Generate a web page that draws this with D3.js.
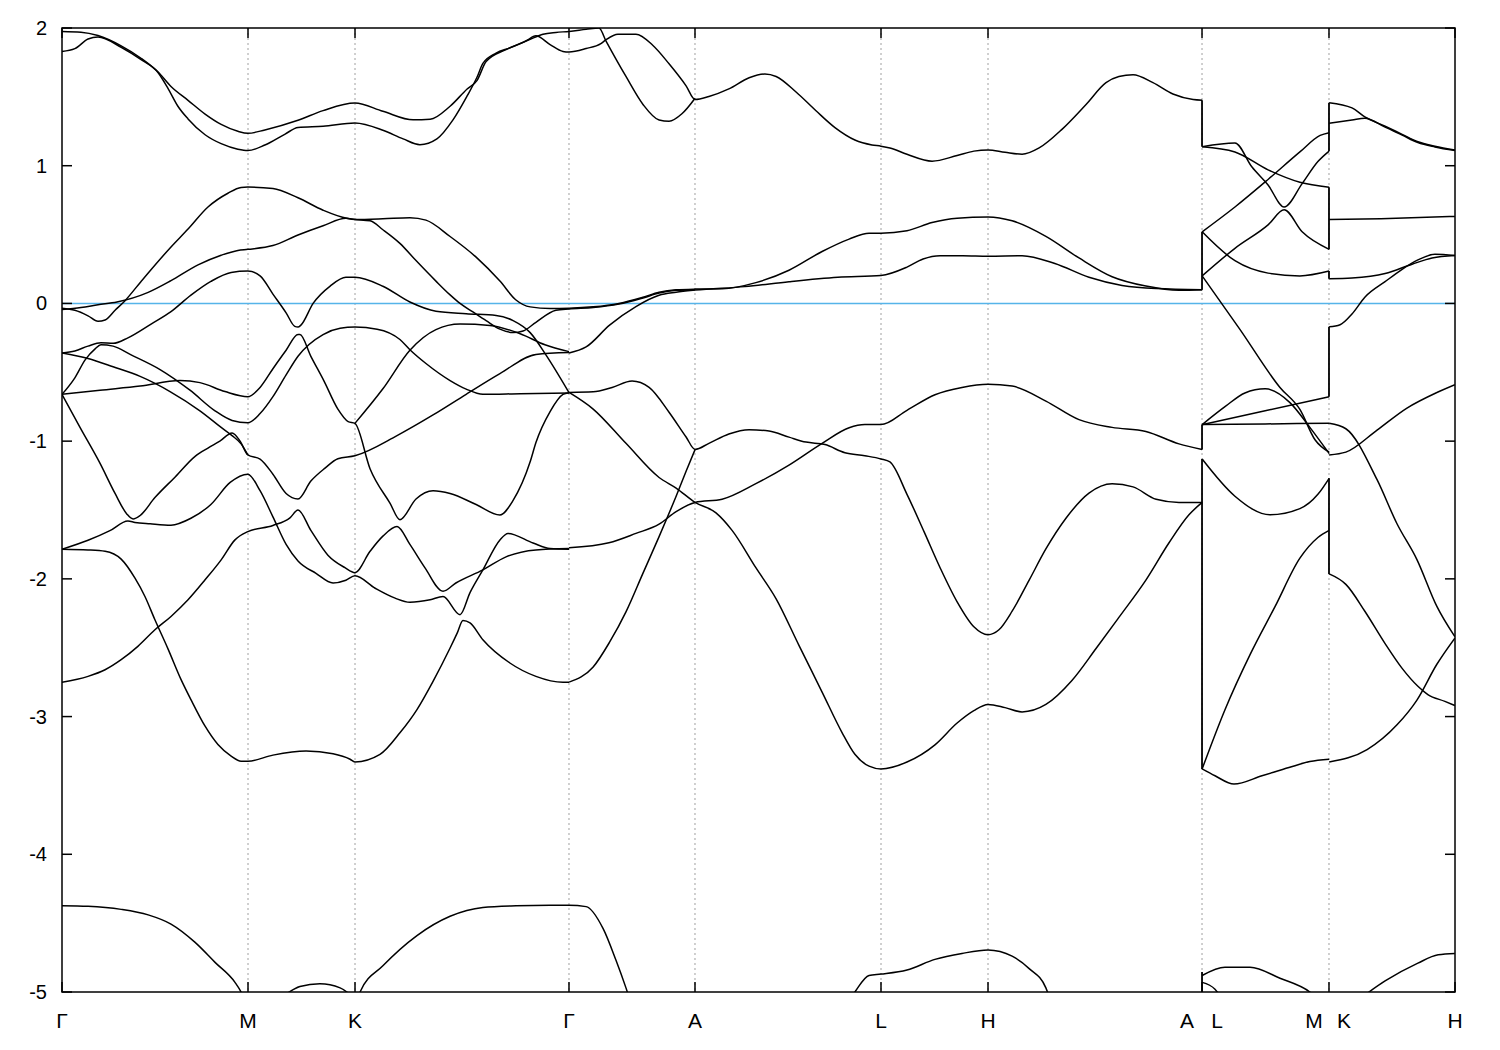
<!DOCTYPE html>
<html><head><meta charset="utf-8">
<script src="https://cdn.jsdelivr.net/npm/d3@7"></script>
<style>body{margin:0;background:#fff}text{font-family:"Liberation Sans",Arial,sans-serif}</style>
</head><body>
<svg id="c" width="1500" height="1050"></svg>
<script>
// ---- data ----
const tickK = [0, 0.5785, 0.9113, 1.5768, 1.9687, 2.5472, 2.8800, 3.5456, 3.9405, 4.3324];
const tickNames = ["Γ","M","K","Γ","A","L","H","A|L","M|K","H"];
const yTicks = [2,1,0,-1,-2,-3,-4,-5];
const fermiLevel = 0;

const bandUA = [[0,1.975],[0.059,1.97],[0.112,1.945],[0.184,1.87],[0.246,1.78],[0.299,1.68],[0.339,1.575],[0.392,1.475],[0.445,1.375],[0.495,1.30],[0.547,1.25],[0.578,1.235],[0.631,1.26],[0.734,1.33],[0.812,1.40],[0.911,1.455],[0.998,1.395],[1.092,1.333],[1.145,1.337],[1.207,1.432],[1.260,1.557],[1.291,1.62],[1.319,1.756],[1.381,1.843],[1.443,1.905],[1.474,1.943],[1.518,1.88],[1.558,1.83],[1.577,1.826],[1.630,1.851],[1.676,1.887],[1.692,1.915],[1.729,1.955],[1.785,1.955],[1.838,1.873],[1.888,1.74],[1.941,1.58],[1.969,1.481],[2.012,1.503],[2.074,1.558],[2.137,1.639],[2.186,1.666],[2.221,1.648],[2.283,1.535],[2.345,1.399],[2.404,1.277],[2.466,1.187],[2.519,1.151],[2.547,1.142],[2.575,1.129],[2.628,1.083],[2.706,1.033],[2.784,1.074],[2.836,1.106],[2.880,1.115],[2.933,1.097],[2.986,1.083],[3.039,1.129],[3.110,1.264],[3.185,1.445],[3.247,1.603],[3.287,1.648],[3.331,1.661],[3.393,1.603],[3.455,1.521],[3.518,1.481],[3.546,1.476]];
const bandUB = [[0,1.83],[0.040,1.85],[0.081,1.92],[0.112,1.935],[0.184,1.86],[0.246,1.77],[0.299,1.675],[0.330,1.56],[0.361,1.43],[0.392,1.34],[0.445,1.225],[0.495,1.16],[0.547,1.12],[0.578,1.11],[0.631,1.15],[0.694,1.23],[0.734,1.278],[0.812,1.287],[0.911,1.31],[0.998,1.258],[1.061,1.195],[1.113,1.153],[1.166,1.195],[1.216,1.333],[1.260,1.507],[1.291,1.644],[1.309,1.743],[1.350,1.818],[1.393,1.856],[1.456,1.918],[1.496,1.955],[1.536,1.968],[1.577,1.975],[1.630,1.99],[1.670,2.0],[1.692,1.905],[1.754,1.648],[1.807,1.445],[1.857,1.332],[1.888,1.323],[1.928,1.377],[1.969,1.49]];
const bandP = [[0,-0.035],[0.040,-0.05],[0.081,-0.09],[0.112,-0.13],[0.134,-0.12],[0.165,-0.05],[0.196,0.02],[0.246,0.16],[0.339,0.41],[0.392,0.54],[0.454,0.70],[0.516,0.80],[0.557,0.842],[0.578,0.845],[0.656,0.835],[0.734,0.767],[0.812,0.677],[0.886,0.618],[0.911,0.61],[0.998,0.615],[1.082,0.623],[1.132,0.605],[1.207,0.486],[1.288,0.336],[1.362,0.162],[1.412,0.025],[1.456,-0.025],[1.518,-0.037],[1.577,-0.035],[1.652,-0.025],[1.732,0.0],[1.807,0.045],[1.857,0.081],[1.910,0.099],[1.969,0.104],[2.053,0.106],[2.158,0.151],[2.261,0.241],[2.364,0.377],[2.448,0.467],[2.510,0.51],[2.547,0.51],[2.628,0.528],[2.706,0.587],[2.784,0.619],[2.880,0.628],[2.955,0.60],[3.060,0.487],[3.163,0.33],[3.266,0.194],[3.371,0.126],[3.474,0.095],[3.546,0.1]];
const bandQ = [[0,-0.045],[0.059,-0.03],[0.112,-0.01],[0.171,0.01],[0.268,0.08],[0.339,0.165],[0.423,0.28],[0.495,0.35],[0.547,0.385],[0.578,0.393],[0.656,0.42],[0.734,0.497],[0.812,0.564],[0.883,0.618],[0.911,0.61],[0.958,0.60],[0.998,0.535],[1.051,0.436],[1.101,0.311],[1.163,0.162],[1.207,0.062],[1.238,0.0],[1.278,-0.062],[1.319,-0.125],[1.362,-0.187],[1.403,-0.212],[1.434,-0.20],[1.474,-0.137],[1.536,-0.05],[1.577,-0.04],[1.652,-0.03],[1.732,-0.005],[1.807,0.04],[1.857,0.075],[1.910,0.095],[1.969,0.1]];
const bandR = [[0,-0.36],[0.040,-0.345],[0.081,-0.31],[0.121,-0.285],[0.159,-0.29],[0.205,-0.25],[0.277,-0.15],[0.339,-0.06],[0.401,0.06],[0.463,0.16],[0.526,0.225],[0.578,0.235],[0.616,0.20],[0.656,0.068],[0.697,-0.068],[0.724,-0.167],[0.734,-0.172],[0.743,-0.158],[0.781,0.0],[0.834,0.126],[0.883,0.19],[0.911,0.19],[0.998,0.125],[1.082,0.01],[1.163,-0.057],[1.257,-0.075],[1.350,-0.087],[1.403,-0.125],[1.456,-0.212],[1.505,-0.373],[1.577,-0.648]];
const bandS = [[0,-0.66],[0.118,-0.63],[0.243,-0.60],[0.367,-0.56],[0.429,-0.575],[0.507,-0.64],[0.578,-0.677],[0.616,-0.61],[0.656,-0.474],[0.697,-0.34],[0.734,-0.226],[0.740,-0.226],[0.774,-0.384],[0.815,-0.564],[0.858,-0.767],[0.890,-0.858],[0.911,-0.871],[0.958,-1.20],[1.020,-1.45],[1.051,-1.57],[1.101,-1.42],[1.154,-1.36],[1.207,-1.38],[1.288,-1.46],[1.362,-1.536],[1.403,-1.43],[1.456,-1.15],[1.474,-1.01],[1.518,-0.785],[1.558,-0.66],[1.577,-0.648]];
const bandD1 = [[0,-0.36],[0.081,-0.40],[0.159,-0.46],[0.243,-0.53],[0.336,-0.64],[0.429,-0.78],[0.495,-0.90],[0.529,-0.96],[0.557,-1.02],[0.578,-1.10]];
const bandD2 = [[0,-0.66],[0.040,-0.54],[0.072,-0.41],[0.103,-0.33],[0.121,-0.30],[0.159,-0.31],[0.212,-0.37],[0.305,-0.48],[0.398,-0.63],[0.476,-0.78],[0.529,-0.85],[0.578,-0.867],[0.616,-0.80],[0.656,-0.677],[0.697,-0.519],[0.734,-0.384],[0.812,-0.226],[0.865,-0.181],[0.911,-0.172],[0.980,-0.187],[1.051,-0.262],[1.082,-0.336],[1.132,-0.436],[1.207,-0.56],[1.257,-0.622],[1.309,-0.66],[1.425,-0.655],[1.577,-0.65]];
const bandT2 = [[0,-0.66],[0.056,-0.90],[0.118,-1.16],[0.165,-1.38],[0.202,-1.53],[0.221,-1.565],[0.243,-1.54],[0.289,-1.41],[0.352,-1.26],[0.414,-1.11],[0.454,-1.05],[0.491,-1.00],[0.529,-0.94],[0.554,-1.0],[0.578,-1.10],[0.616,-1.13],[0.656,-1.24],[0.697,-1.38],[0.734,-1.42],[0.774,-1.29],[0.818,-1.196],[0.858,-1.128],[0.911,-1.106],[1.042,-0.96],[1.154,-0.81],[1.257,-0.66],[1.362,-0.51],[1.474,-0.37],[1.577,-0.356]];
const bandKG2 = [[0.911,-0.871],[0.998,-0.62],[1.082,-0.34],[1.163,-0.19],[1.238,-0.15],[1.331,-0.16],[1.425,-0.22],[1.502,-0.30],[1.577,-0.35]];
const bandLB1 = [[0,-1.785],[0.081,-1.79],[0.134,-1.80],[0.184,-1.857],[0.227,-1.995],[0.258,-2.128],[0.289,-2.297],[0.330,-2.51],[0.370,-2.73],[0.401,-2.877],[0.445,-3.07],[0.485,-3.203],[0.526,-3.287],[0.557,-3.324],[0.578,-3.324],[0.656,-3.28],[0.759,-3.25],[0.843,-3.27],[0.896,-3.31],[0.911,-3.33],[0.989,-3.275],[1.051,-3.118],[1.104,-2.949],[1.154,-2.744],[1.207,-2.502],[1.229,-2.394],[1.247,-2.302],[1.269,-2.32],[1.309,-2.442],[1.393,-2.611],[1.474,-2.708],[1.558,-2.751],[1.577,-2.751]];
const bandLB2 = [[0,-2.751],[0.081,-2.708],[0.134,-2.66],[0.184,-2.587],[0.236,-2.49],[0.289,-2.37],[0.339,-2.273],[0.392,-2.152],[0.445,-2.007],[0.495,-1.862],[0.538,-1.717],[0.578,-1.657],[0.656,-1.612],[0.709,-1.557],[0.734,-1.50],[0.774,-1.648],[0.827,-1.828],[0.880,-1.919],[0.911,-1.955],[0.958,-1.80],[0.998,-1.69],[1.042,-1.62],[1.082,-1.75],[1.129,-1.92],[1.185,-2.09],[1.225,-2.03],[1.309,-1.935],[1.381,-1.84],[1.474,-1.79],[1.577,-1.78]];
const bandLB3 = [[0,-1.785],[0.081,-1.72],[0.149,-1.65],[0.205,-1.58],[0.227,-1.59],[0.274,-1.60],[0.339,-1.61],[0.401,-1.56],[0.463,-1.46],[0.523,-1.30],[0.578,-1.24],[0.616,-1.36],[0.656,-1.55],[0.697,-1.75],[0.734,-1.87],[0.790,-1.96],[0.843,-2.03],[0.883,-2.01],[0.911,-1.978],[0.974,-2.068],[1.036,-2.14],[1.082,-2.17],[1.145,-2.152],[1.185,-2.128],[1.238,-2.26],[1.269,-2.10],[1.309,-1.935],[1.362,-1.717],[1.387,-1.67],[1.465,-1.74],[1.518,-1.78],[1.577,-1.785]];
const bandM2 = [[1.577,-0.36],[1.630,-0.316],[1.703,-0.158],[1.785,-0.023],[1.857,0.059],[1.910,0.081],[1.969,0.097],[2.124,0.122],[2.261,0.158],[2.413,0.19],[2.547,0.203],[2.628,0.264],[2.678,0.323],[2.731,0.347],[2.802,0.347],[2.880,0.343],[2.986,0.347],[3.088,0.29],[3.194,0.19],[3.297,0.131],[3.403,0.108],[3.546,0.1]];
const bandM3 = [[1.577,-0.646],[1.652,-0.642],[1.711,-0.61],[1.773,-0.564],[1.826,-0.61],[1.888,-0.79],[1.941,-0.97],[1.969,-1.06],[2.012,-1.016],[2.074,-0.948],[2.137,-0.917],[2.199,-0.926],[2.261,-0.971],[2.314,-1.007],[2.373,-1.025],[2.435,-1.084],[2.497,-1.106],[2.547,-1.129],[2.575,-1.151],[2.628,-1.386],[2.681,-1.657],[2.731,-1.919],[2.784,-2.167],[2.836,-2.348],[2.880,-2.406],[2.914,-2.37],[2.955,-2.235],[3.008,-2.009],[3.060,-1.783],[3.123,-1.558],[3.194,-1.377],[3.266,-1.309],[3.331,-1.332],[3.403,-1.422],[3.474,-1.445],[3.546,-1.445]];
const bandM4 = [[1.577,-0.646],[1.652,-0.767],[1.754,-1.016],[1.857,-1.264],[1.910,-1.341],[1.969,-1.445],[2.034,-1.521],[2.084,-1.648],[2.158,-1.919],[2.221,-2.145],[2.292,-2.483],[2.364,-2.822],[2.426,-3.116],[2.466,-3.274],[2.510,-3.36],[2.547,-3.38],[2.628,-3.33],[2.715,-3.205],[2.784,-3.047],[2.836,-2.957],[2.880,-2.912],[2.933,-2.935],[2.986,-2.966],[3.060,-2.912],[3.141,-2.738],[3.216,-2.506],[3.287,-2.28],[3.371,-2.009],[3.443,-1.738],[3.505,-1.535],[3.546,-1.445]];
const bandM5 = [[1.577,-1.774],[1.701,-1.738],[1.785,-1.67],[1.857,-1.603],[1.910,-1.512],[1.969,-1.445],[2.053,-1.422],[2.158,-1.309],[2.261,-1.174],[2.364,-1.016],[2.448,-0.903],[2.497,-0.88],[2.547,-0.88],[2.628,-0.776],[2.715,-0.663],[2.799,-0.61],[2.880,-0.587],[2.955,-0.60],[3.060,-0.709],[3.163,-0.844],[3.266,-0.90],[3.371,-0.93],[3.474,-1.02],[3.546,-1.06]];
const bandM6 = [[1.577,-2.75],[1.652,-2.64],[1.703,-2.46],[1.754,-2.24],[1.806,-1.964],[1.857,-1.693],[1.910,-1.40],[1.941,-1.219],[1.969,-1.061]];
const bandBT1 = [[0,-4.374],[0.081,-4.378],[0.184,-4.40],[0.268,-4.44],[0.339,-4.507],[0.414,-4.64],[0.476,-4.785],[0.538,-4.93],[0.557,-5.0],[0.569,-5.06]];
const bandBT2 = [[0.694,-5.02],[0.740,-4.96],[0.802,-4.94],[0.865,-4.97],[0.902,-5.03]];
const bandBT3 = [[0.921,-5.05],[0.927,-5.0],[0.998,-4.81],[1.104,-4.59],[1.207,-4.45],[1.309,-4.386],[1.412,-4.374],[1.518,-4.37],[1.577,-4.37],[1.630,-4.38],[1.683,-4.54],[1.723,-4.77],[1.754,-4.97],[1.767,-5.06]];
const bandBT4 = [[2.451,-5.05],[2.466,-5.0],[2.510,-4.88],[2.547,-4.87],[2.628,-4.84],[2.715,-4.763],[2.799,-4.72],[2.880,-4.695],[2.955,-4.74],[3.008,-4.83],[3.060,-4.97],[3.073,-5.05]];
const bandBT5 = [[3.546,-4.88],[3.617,-4.82],[3.695,-4.82],[3.788,-4.90],[3.881,-5.0],[3.897,-5.03]];
const bandBT6 = [[3.546,-4.93],[3.586,-4.98],[3.608,-5.05]];
const bandBT7 = [[4.053,-5.02],[4.115,-4.92],[4.217,-4.79],[4.280,-4.73],[4.332,-4.72]];
const bandLMa = [[3.546,1.138],[3.648,1.165],[3.701,0.99],[3.751,0.86],[3.801,0.70],[3.857,0.87],[3.906,1.03],[3.941,1.106]];
const bandLMb = [[3.546,1.138],[3.648,1.10],[3.751,0.97],[3.850,0.88],[3.941,0.844]];
const bandLMc = [[3.546,0.52],[3.648,0.70],[3.751,0.90],[3.850,1.10],[3.913,1.22],[3.941,1.24]];
const bandLMd = [[3.546,0.52],[3.648,0.31],[3.751,0.22],[3.850,0.20],[3.941,0.235]];
const bandLMe = [[3.546,0.2],[3.648,0.40],[3.751,0.57],[3.801,0.68],[3.857,0.52],[3.941,0.393]];
const bandLMf = [[3.546,0.2],[3.664,-0.19],[3.788,-0.61],[3.850,-0.77],[3.897,-0.99],[3.941,-1.08]];
const bandLMg = [[3.546,-0.88],[3.617,-0.75],[3.679,-0.65],[3.742,-0.62],[3.819,-0.72],[3.881,-0.90],[3.941,-1.09]];
const bandLMh = [[3.546,-0.88],[3.742,-0.875],[3.941,-0.87]];
const bandLMi = [[3.546,-0.88],[3.742,-0.78],[3.941,-0.677]];
const bandLMj = [[3.546,-1.13],[3.648,-1.40],[3.757,-1.535],[3.850,-1.49],[3.906,-1.386],[3.941,-1.27]];
const bandLMk = [[3.546,-3.38],[3.617,-2.95],[3.695,-2.55],[3.773,-2.2],[3.850,-1.85],[3.906,-1.70],[3.941,-1.648]];
const bandLMl = [[3.546,-3.38],[3.586,-3.43],[3.645,-3.49],[3.732,-3.43],[3.816,-3.37],[3.881,-3.327],[3.941,-3.31]];
const bandKH1 = [[3.941,1.458],[4.012,1.42],[4.052,1.354],[4.115,1.287],[4.168,1.228],[4.217,1.174],[4.270,1.142],[4.332,1.115]];
const bandKH2 = [[3.941,1.309],[4.012,1.332],[4.052,1.345],[4.115,1.28],[4.168,1.222],[4.217,1.168],[4.270,1.136],[4.332,1.11]];
const bandKH3 = [[3.941,0.609],[4.102,0.615],[4.332,0.632]];
const bandKH4 = [[3.941,0.18],[4.012,0.185],[4.115,0.217],[4.199,0.285],[4.261,0.33],[4.332,0.348]];
const bandKH5 = [[3.941,-0.17],[3.975,-0.155],[4.012,-0.077],[4.052,0.045],[4.115,0.158],[4.168,0.248],[4.217,0.316],[4.270,0.357],[4.332,0.348]];
const bandKH6 = [[3.941,-0.87],[3.993,-0.91],[4.090,-1.28],[4.152,-1.6],[4.214,-1.86],[4.276,-2.2],[4.332,-2.42]];
const bandKH7 = [[3.941,-1.10],[3.993,-1.08],[4.090,-0.92],[4.183,-0.76],[4.276,-0.647],[4.332,-0.59]];
const bandKH8 = [[3.941,-1.964],[3.993,-2.04],[4.052,-2.235],[4.115,-2.47],[4.168,-2.65],[4.217,-2.78],[4.248,-2.84],[4.301,-2.89],[4.332,-2.92]];
const bandKH9 = [[3.941,-3.33],[4.059,-3.24],[4.152,-3.06],[4.214,-2.88],[4.276,-2.62],[4.332,-2.43]];
// vertical jumps at path discontinuities: [k, E1, E2]
const jumps = [[3.5456,1.476,1.138],[3.5456,0.1,0.52],[3.5456,-1.06,-0.88],[3.5456,-1.13,-3.38],[3.5456,-5.05,-4.855],
               [3.9405,1.106,1.458],[3.9405,0.844,0.393],[3.9405,0.235,0.18],[3.9405,-0.677,-0.17],[3.9405,-1.27,-1.964]];

const bands = [bandUA,bandUB,bandP,bandQ,bandR,bandS,bandD1,bandD2,bandT2,bandKG2,bandLB1,bandLB2,bandLB3,
  bandM2,bandM3,bandM4,bandM5,bandM6,bandBT1,bandBT2,bandBT3,bandBT4,bandBT5,bandBT6,bandBT7,
  bandLMa,bandLMb,bandLMc,bandLMd,bandLMe,bandLMf,bandLMg,bandLMh,bandLMi,bandLMj,bandLMk,bandLMl,
  bandKH1,bandKH2,bandKH3,bandKH4,bandKH5,bandKH6,bandKH7,bandKH8,bandKH9];

// ---- drawing ----
const svg = d3.select("#c");
const L = 62, R = 1455, T = 28, B = 992;
const x = d3.scaleLinear().domain([0, tickK[tickK.length-1]]).range([L, R]);
const y = d3.scaleLinear().domain([-5, 2]).range([B, T]);

svg.append("rect").attr("width",1500).attr("height",1050).attr("fill","#fff");
svg.append("clipPath").attr("id","clip").append("rect")
  .attr("x",L).attr("y",T).attr("width",R-L).attr("height",B-T);

svg.append("g").selectAll("line").data(tickK.slice(1,-1)).join("line")
  .attr("x1",d=>x(d)).attr("x2",d=>x(d)).attr("y1",T).attr("y2",B)
  .attr("stroke","#a0a0a0").attr("stroke-width",1).attr("stroke-dasharray","2,3");

svg.append("line").attr("x1",L).attr("x2",R).attr("y1",y(fermiLevel)).attr("y2",y(fermiLevel))
  .attr("stroke","#56b4e9").attr("stroke-width",1.5);

const gB = svg.append("g").attr("clip-path","url(#clip)");
const line = d3.line().x(d=>x(d[0])).y(d=>y(d[1])).curve(d3.curveMonotoneX);
gB.selectAll("path.band").data(bands).join("path").attr("class","band")
  .attr("d",line).attr("fill","none").attr("stroke","#000").attr("stroke-width",1.5);
gB.selectAll("line.jump").data(jumps).join("line").attr("class","jump")
  .attr("x1",d=>x(d[0])).attr("x2",d=>x(d[0])).attr("y1",d=>y(d[1])).attr("y2",d=>y(d[2]))
  .attr("stroke","#000").attr("stroke-width",1.8);

svg.append("rect").attr("x",L).attr("y",T).attr("width",R-L).attr("height",B-T)
  .attr("fill","none").attr("stroke","#000").attr("stroke-width",1.5);

const gy = svg.append("g");
gy.selectAll("line.l").data(yTicks).join("line").attr("class","l")
  .attr("x1",L).attr("x2",L+10).attr("y1",d=>y(d)).attr("y2",d=>y(d)).attr("stroke","#000").attr("stroke-width",1.5);
gy.selectAll("line.r").data(yTicks).join("line").attr("class","r")
  .attr("x1",R-10).attr("x2",R).attr("y1",d=>y(d)).attr("y2",d=>y(d)).attr("stroke","#000").attr("stroke-width",1.5);
gy.selectAll("text").data(yTicks).join("text")
  .attr("x",L-15).attr("y",d=>y(d)).attr("dy","0.35em").attr("text-anchor","end")
  .attr("font-size",20).text(d=>d);

const gx = svg.append("g");
gx.selectAll("line.b").data(tickK).join("line").attr("class","b")
  .attr("x1",d=>x(d)).attr("x2",d=>x(d)).attr("y1",B).attr("y2",B-10).attr("stroke","#000").attr("stroke-width",1.5);
gx.selectAll("line.t").data(tickK).join("line").attr("class","t")
  .attr("x1",d=>x(d)).attr("x2",d=>x(d)).attr("y1",T).attr("y2",T+10).attr("stroke","#000").attr("stroke-width",1.5);
tickNames.forEach((name,i)=>{
  const parts = name.split("|");
  parts.forEach((p,j)=>{
    const off = parts.length===1 ? 0 : (j===0 ? -15 : 15);
    gx.append("text").attr("x",x(tickK[i])+off).attr("y",1028)
      .attr("text-anchor","middle").attr("font-size",21).text(p);
  });
});
</script>
</body></html>
